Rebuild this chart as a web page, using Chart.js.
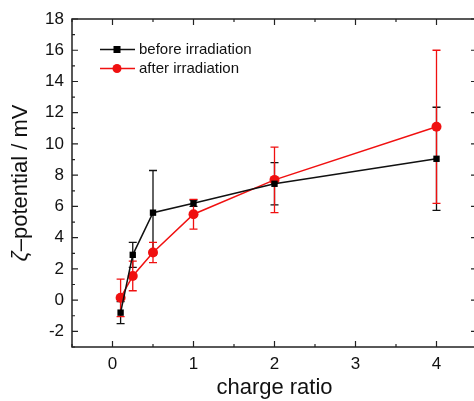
<!DOCTYPE html>
<html>
<head>
<meta charset="utf-8">
<script src="https://cdn.jsdelivr.net/npm/chart.js@4/dist/chart.umd.min.js"></script>
<style>
  html, body { margin: 0; padding: 0; background: #fff; overflow: hidden; }
  #wrap { width: 474px; height: 401px; overflow: hidden; }
</style>
</head>
<body>
<div id="wrap"><canvas id="zeta" width="482" height="401"></canvas></div>
<script>
  // values
  const chargeRatio = [0.1, 0.25, 0.5, 1, 2, 4];
  const beforeVals = [-0.8, 2.9, 5.6, 6.2, 7.45, 9.05];
  const beforeErr = [0.7, 0.8, 2.7, 0.2, 1.35, 3.3];
  const afterVals = [0.15, 1.55, 3.05, 5.5, 7.7, 11.1];
  const afterErr = [1.2, 0.95, 0.65, 0.95, 2.1, 4.9];
  const xTicks = [0, 1, 2, 3, 4];
  const yTicks = [-2, 0, 2, 4, 6, 8, 10, 12, 14, 16, 18];

  const FONT = '"Liberation Sans", Arial, sans-serif';

  function pts(xs, ys) {
    return xs.map((x, i) => ({ x: x, y: ys[i] }));
  }

  // error bars, drawn behind the markers
  const errorBars = {
    id: 'errorBars',
    beforeDatasetsDraw(chart) {
      const ctx = chart.ctx;
      const xs = chart.scales.x, ys = chart.scales.y;
      chart.data.datasets.forEach(ds => {
        ctx.save();
        ctx.strokeStyle = ds.borderColor;
        ctx.lineWidth = 1.3;
        ds.data.forEach((p, i) => {
          const e = ds.errors[i];
          const px = xs.getPixelForValue(p.x);
          const top = ys.getPixelForValue(p.y + e);
          const bot = ys.getPixelForValue(p.y - e);
          ctx.beginPath();
          ctx.moveTo(px, top); ctx.lineTo(px, bot);
          ctx.moveTo(px - 4, top); ctx.lineTo(px + 4, top);
          ctx.moveTo(px - 4, bot); ctx.lineTo(px + 4, bot);
          ctx.stroke();
        });
        ctx.restore();
      });
    }
  };

  // box frame with inward ticks, legend and the y title (italic zeta)
  const frame = {
    id: 'frame',
    afterDraw(chart) {
      const ctx = chart.ctx;
      const a = chart.chartArea;
      const xs = chart.scales.x, ys = chart.scales.y;
      ctx.save();
      ctx.strokeStyle = '#222';
      ctx.lineWidth = 1.5;
      ctx.strokeRect(a.left, a.top, a.right - a.left, a.bottom - a.top);
      ctx.lineWidth = 1.2;
      ctx.beginPath();
      for (let v = -0.5; v <= 4.5; v += 0.5) {
        const px = xs.getPixelForValue(v);
        const len = Number.isInteger(v) ? 6 : 3;
        ctx.moveTo(px, a.bottom); ctx.lineTo(px, a.bottom - len);
        ctx.moveTo(px, a.top); ctx.lineTo(px, a.top + len);
      }
      for (let v = -3; v <= 18; v += 1) {
        const py = ys.getPixelForValue(v);
        const len = v % 2 === 0 ? 6 : 3;
        ctx.moveTo(a.left, py); ctx.lineTo(a.left + len, py);
        ctx.moveTo(a.right, py); ctx.lineTo(a.right - len, py);
      }
      ctx.stroke();

      // legend
      ctx.font = '15px ' + FONT;
      ctx.textBaseline = 'middle';
      ctx.textAlign = 'left';
      chart.data.datasets.forEach((ds, i) => {
        const y = 49.5 + i * 19;
        ctx.strokeStyle = ds.borderColor;
        ctx.fillStyle = ds.backgroundColor;
        ctx.lineWidth = 1.5;
        ctx.beginPath();
        ctx.moveTo(100, y); ctx.lineTo(135, y);
        ctx.stroke();
        if (ds.pointStyle === 'rect') {
          ctx.fillRect(113.5, y - 3.5, 7, 7);
        } else {
          ctx.beginPath();
          ctx.arc(117, y, 4.5, 0, Math.PI * 2);
          ctx.fill();
        }
        ctx.fillStyle = '#111';
        ctx.fillText(ds.label, 139, y);
      });

      // y axis title
      const zeta = 'ζ';
      const rest = '–potential / mV';
      ctx.translate(21, 183);
      ctx.rotate(-Math.PI / 2);
      ctx.fillStyle = '#111';
      ctx.textBaseline = 'middle';
      ctx.font = 'italic 22px ' + FONT;
      const wz = ctx.measureText(zeta).width;
      ctx.font = '22px ' + FONT;
      const wr = ctx.measureText(rest).width;
      const x0 = -(wz + wr) / 2;
      ctx.font = 'italic 22px ' + FONT;
      ctx.fillText(zeta, x0, 0);
      ctx.font = '22px ' + FONT;
      ctx.fillText(rest, x0 + wz, 0);
      ctx.restore();
    }
  };

  const ctxz = document.getElementById('zeta').getContext('2d');
  const zetaChart = new Chart(ctxz, {
    type: 'line',
    data: {
      datasets: [{
        label: 'before irradiation',
        data: pts(chargeRatio, beforeVals),
        errors: beforeErr,
        borderColor: '#111',
        backgroundColor: '#000',
        borderWidth: 1.5,
        pointStyle: 'rect',
        pointRadius: 4.5,
        pointBorderWidth: 0
      }, {
        label: 'after irradiation',
        data: pts(chargeRatio, afterVals),
        errors: afterErr,
        borderColor: '#f01010',
        backgroundColor: '#f01010',
        borderWidth: 1.5,
        pointStyle: 'circle',
        pointRadius: 5,
        pointBorderWidth: 0
      }]
    },
    options: {
      responsive: false,
      animation: false,
      layout: { padding: { top: 19, right: 4, left: 0, bottom: 0 } },
      scales: {
        x: {
          type: 'linear',
          min: -0.5,
          max: 4.5,
          afterBuildTicks: s => { s.ticks = xTicks.map(v => ({ value: v })); },
          afterFit: s => { s.height = 54; },
          grid: { display: false, drawTicks: false },
          border: { display: false },
          ticks: { color: '#111', font: { family: FONT, size: 17 }, padding: 7 },
          title: {
            display: true,
            text: 'charge ratio',
            color: '#111',
            font: { family: FONT, size: 22 },
            padding: { top: 0, bottom: 0 }
          }
        },
        y: {
          min: -3,
          max: 18,
          afterBuildTicks: s => { s.ticks = yTicks.map(v => ({ value: v })); },
          afterFit: s => { s.width = 72; },
          grid: { display: false, drawTicks: false },
          border: { display: false },
          ticks: { color: '#111', font: { family: FONT, size: 17 }, padding: 8 },
          title: { display: false }
        }
      },
      plugins: {
        legend: { display: false },
        tooltip: { enabled: false }
      }
    },
    plugins: [errorBars, frame]
  });
</script>
</body>
</html>
